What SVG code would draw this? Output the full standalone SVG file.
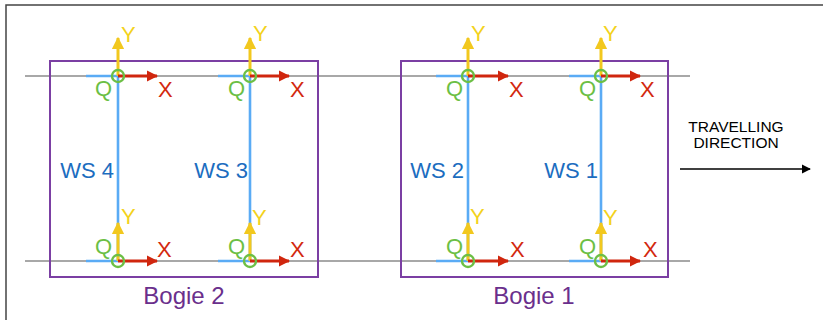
<svg xmlns="http://www.w3.org/2000/svg" width="823" height="320" viewBox="0 0 823 320">
<defs>
<style>
.rail{stroke:#a8a8a8;stroke-width:1.8;fill:none}
.bogie{stroke:#7b3fa3;stroke-width:2;fill:none}
.axle{stroke:#5aabf5;stroke-width:2.6;fill:none}
.yax{stroke:#f2c81e;stroke-width:3;fill:none}
.xax{stroke:#d0260e;stroke-width:3;fill:none}
.q{stroke:#6cbf45;stroke-width:2.4;fill:none}
.t{font-family:"Liberation Sans",Arial,sans-serif;font-size:22px}
.ty{fill:#f3d21c}.tx{fill:#d3280f}.tq{fill:#6cbf45}.tw{fill:#1c6dbf}.tb{fill:#6a2f8c;font-size:24px}
</style>
<marker id="ay" viewBox="0 0 10 10" refX="9" refY="5" markerWidth="4.2" markerHeight="4.2" markerUnits="strokeWidth" orient="auto"><path d="M0,0L10,5L0,10z" fill="#f2c81e"/></marker>
<marker id="ax" viewBox="0 0 10 10" refX="9" refY="5" markerWidth="3.8" markerHeight="3.8" markerUnits="strokeWidth" orient="auto"><path d="M0,0L10,5L0,10z" fill="#d0260e"/></marker>
<marker id="ak" viewBox="0 0 10 10" refX="9" refY="5" markerWidth="7" markerHeight="7" markerUnits="strokeWidth" orient="auto"><path d="M0,0L10,5L0,10z" fill="#000"/></marker>
</defs>
<rect width="823" height="320" fill="#fff"/>
<path d="M6,320V5H823" stroke="#444" stroke-width="1.5" fill="none"/>
<g id="rails">
<line class="rail" x1="25" y1="76" x2="690" y2="76"/>
<line class="rail" x1="25" y1="261" x2="690" y2="261"/>
</g>
<g id="bogie2"><rect class="bogie" x="50" y="61" width="268" height="216"/><text class="t tb" x="184" y="304" text-anchor="middle">Bogie 2</text></g>
<g id="bogie1"><rect class="bogie" x="401" y="61" width="267" height="216"/><text class="t tb" x="534" y="304" text-anchor="middle">Bogie 1</text></g>
<g id="ws4">
<path class="axle" d="M118,76V261M86,76H118M86,261H118"/>
<text class="t tw" x="114" y="178" text-anchor="end">WS 4</text>
</g>
<g id="ws3">
<path class="axle" d="M250,76V261M218,76H250M218,261H250"/>
<text class="t tw" x="248" y="178" text-anchor="end">WS 3</text>
</g>
<g id="ws2">
<path class="axle" d="M468,76V261M436,76H468M436,261H468"/>
<text class="t tw" x="464" y="178" text-anchor="end">WS 2</text>
</g>
<g id="ws1">
<path class="axle" d="M601,76V261M569,76H601M569,261H601"/>
<text class="t tw" x="598" y="178" text-anchor="end">WS 1</text>
</g>
<g id="connectors">
<line class="yax" x1="118" y1="76" x2="118" y2="38" marker-end="url(#ay)"/>
<line class="xax" x1="118" y1="76" x2="157" y2="76" marker-end="url(#ax)"/>
<line class="yax" x1="250" y1="76" x2="250" y2="38" marker-end="url(#ay)"/>
<line class="xax" x1="250" y1="76" x2="289" y2="76" marker-end="url(#ax)"/>
<line class="yax" x1="468" y1="76" x2="468" y2="38" marker-end="url(#ay)"/>
<line class="xax" x1="468" y1="76" x2="508" y2="76" marker-end="url(#ax)"/>
<line class="yax" x1="601" y1="76" x2="601" y2="38" marker-end="url(#ay)"/>
<line class="xax" x1="601" y1="76" x2="640" y2="76" marker-end="url(#ax)"/>
<line class="yax" x1="118" y1="261" x2="118" y2="223" marker-end="url(#ay)"/>
<line class="xax" x1="118" y1="261" x2="157" y2="261" marker-end="url(#ax)"/>
<line class="yax" x1="250" y1="261" x2="250" y2="223" marker-end="url(#ay)"/>
<line class="xax" x1="250" y1="261" x2="289" y2="261" marker-end="url(#ax)"/>
<line class="yax" x1="468" y1="261" x2="468" y2="223" marker-end="url(#ay)"/>
<line class="xax" x1="468" y1="261" x2="508" y2="261" marker-end="url(#ax)"/>
<line class="yax" x1="601" y1="261" x2="601" y2="223" marker-end="url(#ay)"/>
<line class="xax" x1="601" y1="261" x2="640" y2="261" marker-end="url(#ax)"/>
<line x1="680" y1="169" x2="810" y2="169" stroke="#000" stroke-width="1.3" marker-end="url(#ak)"/>
</g>
<g id="points">
<circle class="q" cx="118" cy="76" r="6"/><circle class="q" cx="250" cy="76" r="6"/><circle class="q" cx="468" cy="76" r="6"/><circle class="q" cx="601" cy="76" r="6"/>
<circle class="q" cx="118" cy="261" r="6"/><circle class="q" cx="250" cy="261" r="6"/><circle class="q" cx="468" cy="261" r="6"/><circle class="q" cx="601" cy="261" r="6"/>
</g>
<g id="labels" class="t">
<text class="ty" x="121" y="42">Y</text><text class="ty" x="253" y="41">Y</text><text class="ty" x="471" y="41">Y</text><text class="ty" x="603" y="41">Y</text>
<text class="ty" x="121" y="224">Y</text><text class="ty" x="252" y="225">Y</text><text class="ty" x="470" y="224">Y</text><text class="ty" x="603" y="225">Y</text>
<text class="tx" x="158" y="97">X</text><text class="tx" x="290" y="97">X</text><text class="tx" x="509" y="97">X</text><text class="tx" x="640" y="97">X</text>
<text class="tx" x="157" y="257">X</text><text class="tx" x="290" y="257">X</text><text class="tx" x="510" y="257">X</text><text class="tx" x="643" y="257">X</text>
<text class="tq" x="95" y="96">Q</text><text class="tq" x="228" y="96">Q</text><text class="tq" x="446" y="96">Q</text><text class="tq" x="579" y="96">Q</text>
<text class="tq" x="95" y="254">Q</text><text class="tq" x="228" y="254">Q</text><text class="tq" x="446" y="254">Q</text><text class="tq" x="579" y="254">Q</text>
</g>
<g id="direction" font-family="Liberation Sans,Arial,sans-serif" font-size="15.5" fill="#000" text-anchor="middle">
<text x="736" y="132">TRAVELLING</text>
<text x="736" y="148">DIRECTION</text>
</g>
</svg>
